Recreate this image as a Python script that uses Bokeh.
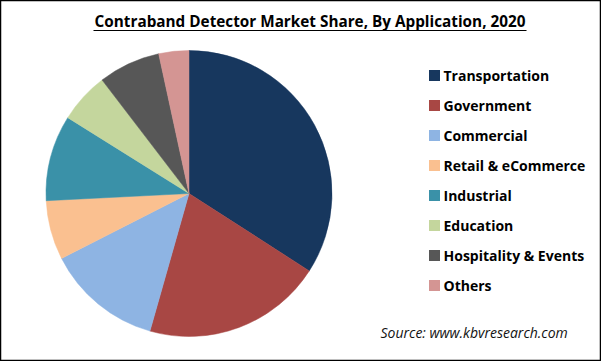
import math
from bokeh.plotting import figure
from bokeh.models import Range1d, ColumnDataSource
from bokeh.core.properties import value
from bokeh.embed import file_html
from bokeh.resources import INLINE

title = "Contraband Detector Market Share, By Application, 2020"
source_note = "Source: www.kbvresearch.com"
categories = ["Transportation", "Government", "Commercial", "Retail & eCommerce",
              "Industrial", "Education", "Hospitality & Events", "Others"]
shares = [34.1, 20.3, 13.1, 6.7, 9.7, 5.7, 7.0, 3.4]
colors = ["#17375E", "#A84744", "#8EB4E3", "#FAC090",
          "#3A91A8", "#C4D69D", "#575757", "#D49593"]

W, H = 601, 361
p = figure(width=W, height=H, x_range=Range1d(0, W), y_range=Range1d(0, H),
           output_backend="svg", toolbar_location=None, min_border=0)
p.axis.visible = False
p.grid.visible = False
p.outline_line_color = "black"
p.outline_line_width = 1.5
p.background_fill_color = "white"
p.border_fill_color = "white"

total = sum(shares)
starts, ends = [], []
acc = 0.0
for s in shares:
    a0 = acc / total * 2 * math.pi
    acc += s
    a1 = acc / total * 2 * math.pi
    starts.append(math.pi / 2 - a1)
    ends.append(math.pi / 2 - a0)

cx, cy, r = 188.5, H - 193.0, 143.0
src = ColumnDataSource(dict(cat=categories, val=shares, color=colors,
                            start=starts, end=ends))
p.wedge(x=cx, y=cy, radius=r, start_angle="start", end_angle="end",
        fill_color="color", line_color="color", line_width=0.5, source=src)

# legend
ly = [H - (75 + 30 * i) for i in range(len(categories))]
lsrc = ColumnDataSource(dict(cat=categories, color=colors, y=ly,
                             x=[434] * len(categories), tx=[443] * len(categories)))
p.rect(x="x", y="y", width=11, height=11, fill_color="color", line_color=None, source=lsrc)
p.text(x="tx", y="y", text="cat", text_font=value("Open Sans"), text_font_style="bold",
       text_font_size="14px", text_baseline="middle", text_color="black", source=lsrc)

# title
p.text(x=[309.5], y=[H - 20], text=[title], text_font=value("Open Sans"), text_font_style="bold",
       text_font_size="15.3px", text_align="center", text_baseline="middle", text_color="black")
p.segment(x0=[93], y0=[H - 30], x1=[526], y1=[H - 30], line_color="black", line_width=1.2)

# source
p.text(x=[380], y=[H - 332], text=[source_note], text_font=value("Open Sans"),
       text_font_style="italic", text_font_size="14px", text_baseline="middle",
       text_color="#111111")

open("out.html", "w").write(file_html(p, INLINE))
